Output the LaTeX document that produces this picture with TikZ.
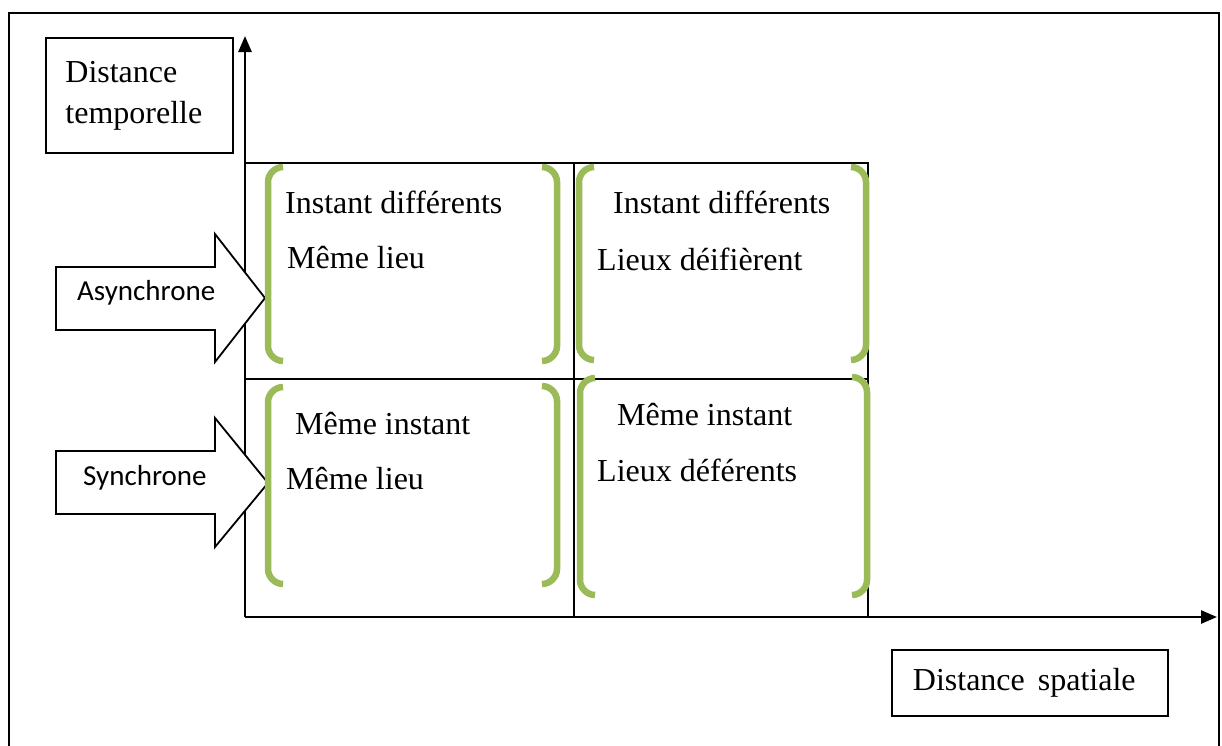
\documentclass[tikz,border=0pt]{standalone}
\usepackage{fontspec}
\setmainfont{Liberation Serif}
\newfontfamily\calibri{Carlito}
\usetikzlibrary{arrows.meta}
\definecolor{brk}{HTML}{9BBB59}
\tikzset{
  box/.style={draw, line width=1.8pt},
  grid line/.style={line width=1.8pt},
  axis/.style={line width=2.6pt, -{Triangle[width=13pt,length=16pt]}},
  cell/.style={anchor=base west, inner sep=0pt, font=\fontsize{32}{38}\selectfont},
  side/.style={anchor=base west, inner sep=0pt, font=\calibri\fontsize{29}{34}\selectfont},
  blockarrow/.style={draw, fill=white, line width=1.8pt, line join=miter},
  bracket/.style={draw=brk, line width=6.5pt}
}
% left and right green brackets: x, top y, bottom y
\newcommand{\lbrak}[3]{\draw[bracket] (#1+15,#2) .. controls (#1+7,#2) and (#1,#2+7) .. (#1,#2+15) -- (#1,#3-15) .. controls (#1,#3-7) and (#1+7,#3) .. (#1+15,#3);}
\newcommand{\rbrak}[3]{\draw[bracket] (#1-15,#2) .. controls (#1-7,#2) and (#1,#2+7) .. (#1,#2+15) -- (#1,#3-15) .. controls (#1,#3-7) and (#1-7,#3) .. (#1-15,#3);}
\begin{document}
\begin{tikzpicture}[x=1pt,y=-1pt]
  \useasboundingbox[fill=white] (0,0) rectangle (1222,745);
  \clip (0,0) rectangle (1222,745);
  \draw[box] (9,13) rectangle (1219,760);

  \coordinate (O) at (245,617);
  \coordinate (ytip) at (245,36);
  \coordinate (xtip) at (1217,617);
  \coordinate (tl) at (245,163);
  \coordinate (tm) at (574,163);
  \coordinate (tr) at (868,163);
  \coordinate (ml) at (245,379);
  \coordinate (mr) at (868,379);
  \coordinate (bm) at (574,617);
  \coordinate (br) at (868,617);

  \draw[grid line] (tl) -- (tr) -- (br);
  \draw[grid line] (tm) -- (bm);
  \draw[grid line] (ml) -- (mr);
  \draw[axis] (O) -- (ytip);
  \draw[axis] (O) -- (xtip);

  \node[box, anchor=north west, minimum width=187pt, minimum height=115pt, text width=148pt, inner xsep=19pt, align=left, font=\fontsize{32}{41}\selectfont] (tempo) at (45,37) {Distance\\temporelle};
  \node[box, anchor=north west, minimum width=276pt, minimum height=66pt, text width=234pt, inner xsep=21pt, align=left, font=\fontsize{32}{38}\selectfont] (spatial) at (891,649) {Distance\hspace{13pt}spatiale};

  \draw[blockarrow] (56,267) -- (215,267) -- (215,234) -- (265,298) -- (215,362) -- (215,330) -- (56,330) -- cycle;
  \node[side] (async) at (77,300) {Asynchrone};
  \draw[blockarrow] (56,451) -- (215,451) -- (215,418) -- (268,483) -- (215,547) -- (215,514) -- (56,514) -- cycle;
  \node[side] (sync) at (83,485) {Synchrone};

  \lbrak{268}{167}{361} \rbrak{557}{167}{361}
  \lbrak{579}{167}{360} \rbrak{866}{167}{360}
  \lbrak{268}{387}{584} \rbrak{557}{386}{584}
  \lbrak{580}{378}{595} \rbrak{867}{377}{595}

  \node[cell] (ad1) at (285,213) {Instant différents};
  \node[cell] (ad2) at (287,268) {Même lieu};
  \node[cell] (bd1) at (613,213) {Instant différents};
  \node[cell] (bd2) at (597,270) {Lieux déifièrent};
  \node[cell] (cs1) at (295,434) {Même instant};
  \node[cell] (cs2) at (286,489) {Même lieu};
  \node[cell] (ds1) at (617,425) {Même instant};
  \node[cell] (ds2) at (597,481) {Lieux déférents};
\end{tikzpicture}
\end{document}
